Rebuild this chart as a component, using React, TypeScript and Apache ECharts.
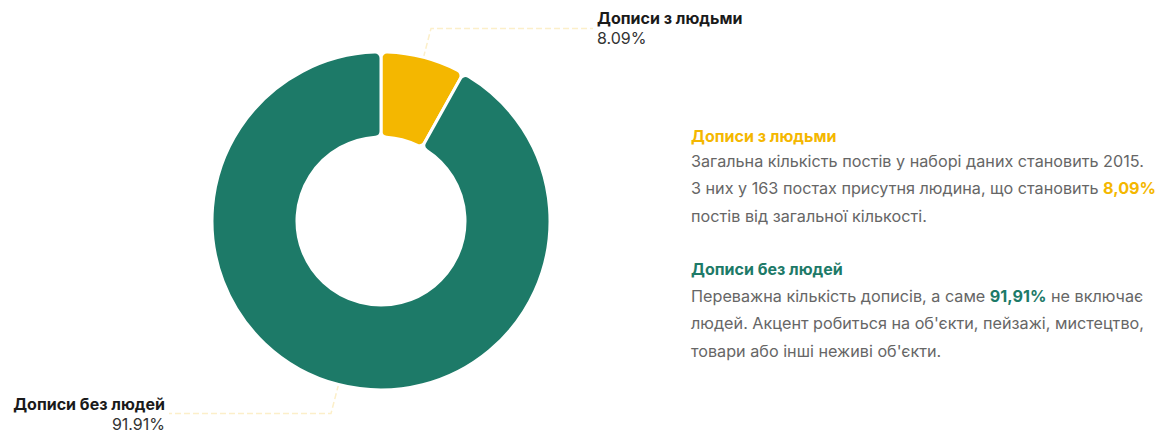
import React, { useEffect, useRef } from "react";
import * as echarts from "echarts";

const categories = ["Дописи з людьми", "Дописи без людей"];
const postCounts = [163, 1852];
const sliceColors = ["#f4b700", "#1d7a68"];

const block1Title = "Дописи з людьми";
const block1Lines = [
  "Загальна кількість постів у наборі даних становить 2015.",
  "З них у 163 постах присутня людина, що становить {y|8,09%}",
  "постів від загальної кількості.",
];
const block2Title = "Дописи без людей";
const block2Lines = [
  "Переважна кількість дописів, а саме {g|91,91%} не включає",
  "людей. Акцент робиться на об'єкти, пейзажі, мистецтво,",
  "товари або інші неживі об'єкти.",
];

const FONT = "Inter, 'Noto Sans', sans-serif";
const BODY = 16.2;

export default function App() {
  const ref = useRef<HTMLDivElement>(null);
  useEffect(() => {
    if (!ref.current) return;
    const chart = echarts.init(ref.current, undefined, { renderer: "svg" });
    const bodyRich = {
      y: { fontFamily: FONT, fontSize: BODY, fontWeight: "bold", fill: sliceColors[0], color: sliceColors[0] },
      g: { fontFamily: FONT, fontSize: BODY, fontWeight: "bold", fill: sliceColors[1], color: sliceColors[1] },
    };
    chart.setOption({
      animation: false,
      series: [
        {
          type: "pie",
          center: [381, 221],
          radius: [84, 169],
          startAngle: 90,
          clockwise: true,
          silent: true,
          itemStyle: { borderColor: "#ffffff", borderWidth: 3, borderRadius: 6 },
          label: {
            show: true,
            position: "outside",
            formatter: "{n|{b}}\n{v|{d}%}",
            distanceToLabelLine: 4,
            rich: {
              n: { fontFamily: FONT, fontSize: 16, fontWeight: "bold", color: "#1a1a1a", lineHeight: 20 },
              v: { fontFamily: FONT, fontSize: 16, color: "#333333", lineHeight: 20 },
            },
          },
          labelLine: {
            show: true,
            length: 30,
            length2: 162,
            lineStyle: { color: "#fcefc9", width: 1.5, type: "dashed" },
          },
          data: categories.map((c, i) => ({
            name: c,
            value: postCounts[i],
            itemStyle: { color: sliceColors[i] },
          })),
        },
      ],
      graphic: [
        {
          type: "text",
          left: 691,
          top: 128,
          style: { text: block1Title, fontFamily: FONT, fontSize: 16, fontWeight: "bold", fill: sliceColors[0] },
        },
        {
          type: "text",
          left: 691,
          top: 147,
          style: {
            text: block1Lines.join("\n"),
            fontFamily: FONT,
            fontSize: BODY,
            lineHeight: 27.5,
            fill: "#666666",
            rich: bodyRich,
          },
        },
        {
          type: "text",
          left: 691,
          top: 261,
          style: { text: block2Title, fontFamily: FONT, fontSize: 16, fontWeight: "bold", fill: sliceColors[1] },
        },
        {
          type: "text",
          left: 691,
          top: 282,
          style: {
            text: block2Lines.join("\n"),
            fontFamily: FONT,
            fontSize: BODY,
            lineHeight: 27.5,
            fill: "#666666",
            rich: bodyRich,
          },
        },
      ],
    });
    return () => chart.dispose();
  }, []);
  return (
    <div
      ref={ref}
      style={{ position: "fixed", left: 0, top: 0, width: 1172, height: 437, background: "#fff" }}
    />
  );
}
